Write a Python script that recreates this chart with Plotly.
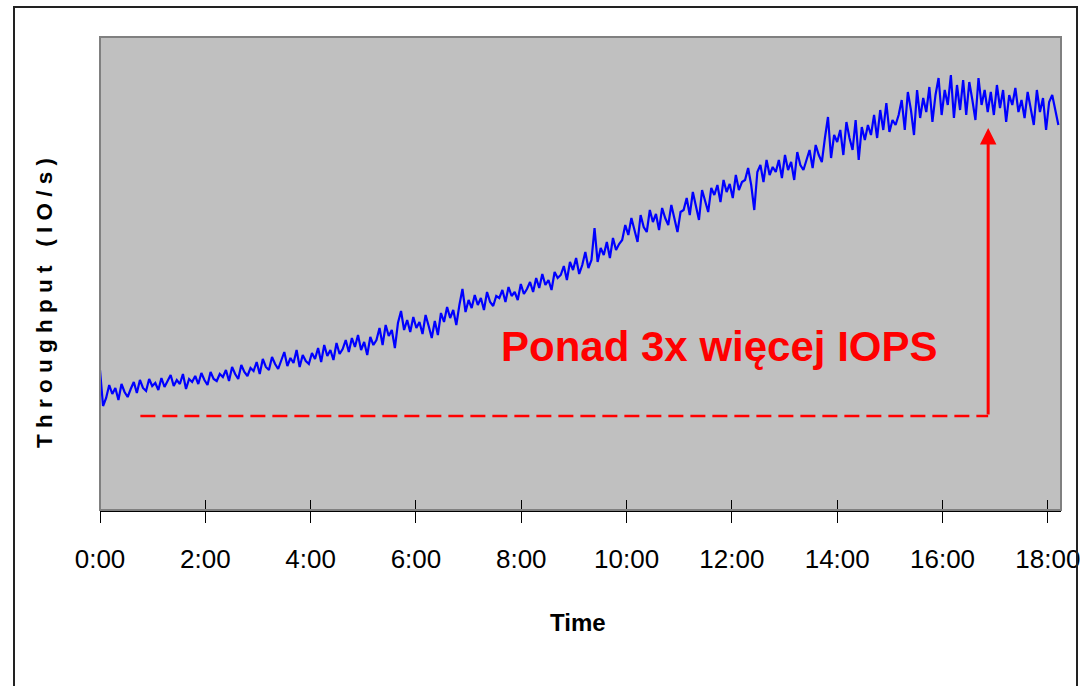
import plotly.graph_objects as go

# --- data ---
step_min = 3.5  # sampling interval in minutes
throughput = [
    140, 104, 112, 125, 116, 122, 110, 126, 118, 113,
    121, 128, 117, 130, 122, 119, 131, 124, 127, 120,
    132, 123, 129, 135, 124, 130, 126, 136, 121, 131,
    128, 134, 126, 137, 130, 125, 138, 131, 129, 136,
    133, 140, 129, 143, 136, 131, 145, 138, 134, 142,
    139, 148, 136, 151, 143, 140, 153, 146, 141, 150,
    158, 144, 152, 147, 160, 143, 155, 149, 146, 157,
    151, 162, 148, 165, 154, 160, 150, 167, 156, 161,
    170, 158, 172, 163, 175, 160, 168, 155, 173, 165,
    170, 182, 165, 185, 174, 180, 162, 187, 199, 180,
    190, 178, 193, 182, 188, 176, 195, 184, 172, 189,
    175, 197, 188, 203, 192, 200, 185, 205, 221, 198,
    210, 202, 215, 205, 212, 200, 218, 208, 204, 214,
    212, 220, 208, 223, 214, 218, 210, 226, 216, 221,
    228, 218, 232, 222, 236, 225, 230, 220, 238, 232,
    235, 244, 230, 248, 240, 252, 236, 245, 258, 242,
    250, 282, 248, 262, 255, 268, 252, 272, 260, 266,
    270, 285, 275, 292, 280, 268, 295, 283, 278, 300,
    288, 296, 280, 302, 292, 285, 305, 290, 278, 298,
    300, 312, 295, 318, 305, 290, 320, 310, 298, 322,
    315, 325, 308, 330, 318, 326, 312, 335, 320, 328,
    330, 342, 325, 300, 338, 345, 328, 350, 335, 343,
    338, 350, 332, 355, 340, 348, 330, 358, 345, 340,
    350, 360, 342, 365, 355, 348, 372, 393, 352, 375,
    368, 380, 355, 388, 372, 360, 390, 350, 383, 370,
    385, 375, 395, 372, 400, 380, 407, 378, 390, 385,
    395, 410, 380, 418, 400, 375, 420, 392, 412, 398,
    423, 388, 415, 432, 395, 420, 405, 435, 392, 425,
    400, 430, 395, 428, 410, 390, 432, 405, 420, 398,
    418, 395, 425, 402, 420, 388, 415, 405, 422, 398,
    410, 392, 418, 400, 385, 420, 398, 412, 380, 408,
    415, 400, 385,
]
time_min = [i * step_min for i in range(len(throughput))]

tick_vals = [0, 120, 240, 360, 480, 600, 720, 840, 960, 1080]
tick_text = ["0:00", "2:00", "4:00", "6:00", "8:00", "10:00", "12:00", "14:00", "16:00", "18:00"]

baseline_level = 94      # dashed reference level
baseline_start = 46      # minutes
baseline_end = 1012      # minutes
peak_level = 382         # arrow tip level
note_text = "Ponad 3x więcej IOPS"

x_range = [0, 1095]
y_range = [0, 473]

SANS = "Liberation Sans, Arial, sans-serif"

fig = go.Figure()

fig.add_trace(go.Scatter(
    x=time_min, y=throughput, mode="lines",
    line=dict(color="#0000FF", width=2.2), showlegend=False, hoverinfo="skip",
))

fig.add_trace(go.Scatter(
    x=[baseline_start, baseline_end], y=[baseline_level, baseline_level], mode="lines",
    line=dict(color="#FF0000", width=2.5, dash="15px,7px"), showlegend=False, hoverinfo="skip",
))

# dummy trace for the inner tick axis
fig.add_trace(go.Scatter(x=[0], y=[None], xaxis="x2", mode="lines", showlegend=False, hoverinfo="skip"))

fig.add_annotation(
    x=baseline_end, y=peak_level, ax=baseline_end, ay=baseline_level,
    xref="x", yref="y", axref="x", ayref="y",
    showarrow=True, arrowhead=2, arrowsize=1.1, arrowwidth=3, arrowcolor="#FF0000", text="",
)

fig.add_annotation(
    x=706, y=164, xref="x", yref="y", text=note_text, showarrow=False,
    font=dict(family=SANS, size=42, color="#FF0000", weight="bold"),
    xanchor="center", yanchor="middle",
)

# axis titles
fig.add_annotation(
    x=(578 - 100) / 961, y=(510 - 622) / 473, xref="paper", yref="paper",
    text="<b>Time</b>", showarrow=False, xanchor="center", yanchor="middle",
    font=dict(family=SANS, size=24, color="#000000"),
)
fig.add_annotation(
    x=(45 - 100) / 961, y=(510 - 303) / 473, xref="paper", yref="paper",
    text="<b>" + " ".join("Throughput (IO/s)") + "</b>", showarrow=False, textangle=-90,
    xanchor="center", yanchor="middle",
    font=dict(family=SANS, size=22.5, color="#000000"),
)

# plot area border and outer frame
fig.add_shape(type="rect", xref="paper", yref="paper", x0=0, x1=1, y0=0, y1=1,
              line=dict(color="#808080", width=2), layer="above")
fig.add_shape(type="rect", xref="paper", yref="paper",
              x0=(14 - 100) / 961, x1=(1077 - 100) / 961, y0=(510 - 720) / 473, y1=(510 - 7) / 473,
              line=dict(color="#222222", width=2), layer="above")

fig.update_layout(
    width=1080, height=686,
    margin=dict(l=100, r=19, t=37, b=176, autoexpand=False),
    paper_bgcolor="#FFFFFF", plot_bgcolor="#C0C0C0",
    xaxis=dict(
        range=x_range, tickvals=tick_vals, ticktext=tick_text,
        ticks="outside", ticklen=11, tickwidth=1, tickcolor="#000000",
        showline=True, linecolor="#000000", linewidth=1.5,
        showgrid=False, zeroline=False, ticklabelstandoff=14,
        ticklabeloverflow="allow", automargin=False,
        tickfont=dict(family=SANS, size=26, color="#000000"),
    ),
    xaxis2=dict(
        range=x_range, overlaying="x", anchor="y", side="bottom",
        tickvals=tick_vals, showticklabels=False, automargin=False,
        ticks="inside", ticklen=10, tickwidth=1, tickcolor="#000000",
        showline=False, showgrid=False, zeroline=False,
    ),
    yaxis=dict(range=y_range, showticklabels=False, ticks="", showgrid=False,
               zeroline=False, showline=False, automargin=False),
)

fig.write_html(
    "out.html",
    config={"displayModeBar": False},
    post_script="document.body.style.margin='0';document.body.style.overflow='hidden';",
)
